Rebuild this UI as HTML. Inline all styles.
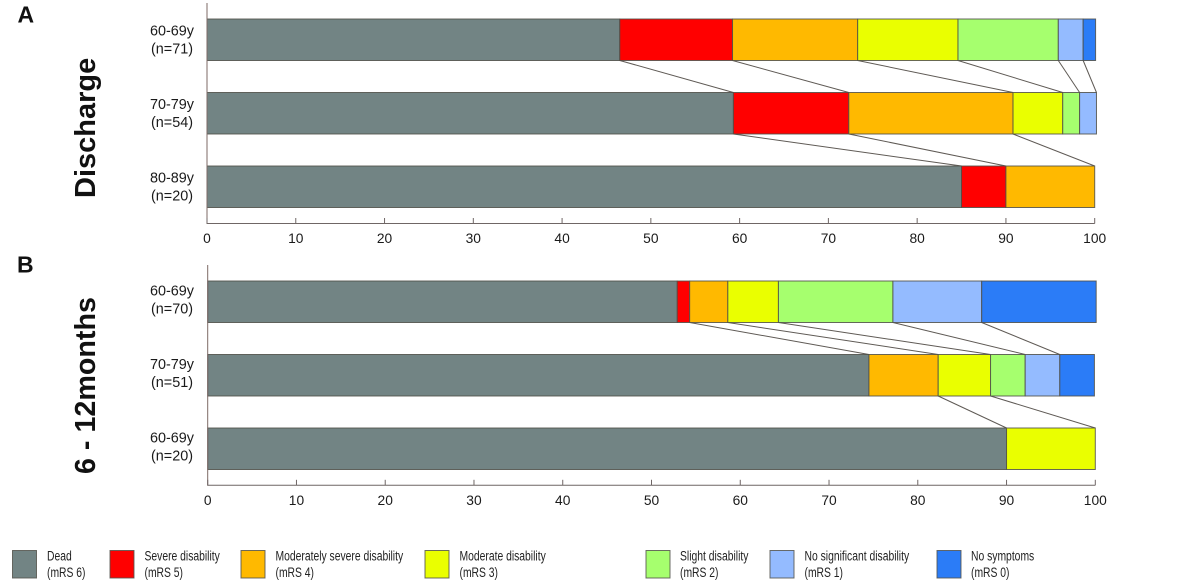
<!DOCTYPE html>
<html lang="en">
<head>
<meta charset="utf-8">
<title>Stacked mRS outcomes by age group</title>
<style>
html,body{margin:0;padding:0;background:#fff;}
svg{display:block;font-family:"Liberation Sans",Arial,sans-serif;}
</style>
</head>
<body>
<svg id="chart" width="1200" height="584" viewBox="0 0 1200 584" xmlns="http://www.w3.org/2000/svg">
  <rect x="0" y="0" width="1200" height="584" fill="#ffffff"/>
  <text x="17.5" y="22.5" font-size="23" font-weight="bold" fill="#111">A</text>
  <text x="17" y="272.5" font-size="23" font-weight="bold" fill="#111">B</text>
  <text transform="translate(95,198) rotate(-90)" font-size="29" font-weight="bold" fill="#111">Discharge</text>
  <text transform="translate(95,474) rotate(-90)" font-size="28.7" font-weight="bold" fill="#111">6 - 12months</text>
  <g id="plots"></g>
  <g id="legend"></g>
</svg>
<script>
// Shared data
const categoryNames = ["Dead", "Severe disability", "Moderately severe disability", "Moderate disability", "Slight disability", "No significant disability", "No symptoms"];
const categoryScores = ["(mRS 6)", "(mRS 5)", "(mRS 4)", "(mRS 3)", "(mRS 2)", "(mRS 1)", "(mRS 0)"];
const categoryColors = ["#728484", "#ff0000", "#ffb900", "#eaff00", "#a6ff6e", "#94bbff", "#2b7cf7"];
const tickValues = [0, 10, 20, 30, 40, 50, 60, 70, 80, 90, 100];

// Panel A: Discharge (percent per category)
const panelAAges = ["60-69y", "70-79y", "80-89y"];
const panelACounts = ["(n=71)", "(n=54)", "(n=20)"];
const panelARow1 = [46.5, 12.7, 14.1, 11.3, 11.3, 2.8, 1.4];
const panelARow2 = [59.3, 13.0, 18.5, 5.6, 1.9, 1.9, 0];
const panelARow3 = [85, 5, 10, 0, 0, 0, 0];
const panelALinks12 = [0, 1, 2, 3, 4, 5];
const panelALinks23 = [0, 1, 2];

// Panel B: 6 - 12 months (percent per category)
const panelBAges = ["60-69y", "70-79y", "60-69y"];
const panelBCounts = ["(n=70)", "(n=51)", "(n=20)"];
const panelBRow1 = [52.9, 1.4, 4.3, 5.7, 12.9, 10.0, 12.9];
const panelBRow2 = [74.5, 0, 7.8, 5.9, 3.9, 3.9, 3.9];
const panelBRow3 = [90, 0, 0, 10, 0, 0, 0];
const panelBLinks12 = [1, 2, 3, 4, 5];
const panelBLinks23 = [2, 3];

const SVGNS = "http://www.w3.org/2000/svg";
const plots = document.getElementById("plots");
const legend = document.getElementById("legend");

function make(tag, parent, attrs) {
  const el = document.createElementNS(SVGNS, tag);
  for (const k in attrs) el.setAttribute(k, attrs[k]);
  parent.appendChild(el);
  return el;
}

function cumulative(values) {
  let sum = 0;
  return values.map(v => (sum += v));
}

function drawPanel(prefix, layout, rows, links, ages, counts) {
  const xScale = v => layout.x0 + v * layout.unit;
  const rowTop = i => layout.top + i * layout.step;
  const group = make("g", plots, {});
  
  

  // connectors
  links.forEach((linkSet, r) => {
    const upper = cumulative(rows[r]);
    const lower = cumulative(rows[r + 1]);
    linkSet.forEach(k => {
      const line = make("line", group, {
        x1: xScale(upper[k]), y1: rowTop(r) + layout.height,
        x2: xScale(lower[k]), y2: rowTop(r + 1),
        stroke: "#5f5a55", "stroke-width": 1
      });
      
      
    });
  });

  // bars
  rows.forEach((values, r) => {
    let start = 0;
    values.forEach((v, k) => {
      if (v > 0) {
        const rect = make("rect", group, {
          x: xScale(start), y: rowTop(r),
          width: v * layout.unit, height: layout.height,
          fill: categoryColors[k], stroke: "#4f4f48", "stroke-width": 1, "stroke-opacity": 0.85
        });
        
        
      }
      start += v;
    });

    const ageLabel = make("text", group, {
      x: 172, y: rowTop(r) + layout.ageOffset,
      "text-anchor": "middle", "font-size": 14.4, fill: "#1a1a1a"
    });
    ageLabel.textContent = ages[r];
    
    

    const countLabel = make("text", group, {
      x: 172, y: rowTop(r) + layout.ageOffset + 18,
      "text-anchor": "middle", "font-size": 14.4, fill: "#1a1a1a"
    });
    countLabel.textContent = counts[r];
    
    
  });

  // axes
  const yAxis = make("line", group, {
    x1: layout.x0, y1: layout.axisTop, x2: layout.x0, y2: layout.axisY + 0.5,
    stroke: "#7d6a66", "stroke-width": 1
  });
  
  

  const xAxis = make("line", group, {
    x1: layout.x0, y1: layout.axisY, x2: xScale(100), y2: layout.axisY,
    stroke: "#6f6665", "stroke-width": 1
  });
  
  

  tickValues.forEach(t => {
    const tick = make("line", group, {
      x1: xScale(t), y1: layout.axisY - 5.5, x2: xScale(t), y2: layout.axisY,
      stroke: "#6f6665", "stroke-width": 1
    });
    
    

    const tickLabel = make("text", group, {
      x: xScale(t), y: layout.axisY + 19.5,
      "text-anchor": "middle", "font-size": 13.8, fill: "#1a1a1a"
    });
    tickLabel.textContent = t;
    
    
  });
}

drawPanel("panel-a",
  {x0: 207, unit: 8.877, top: 19, step: 73.5, height: 41.5, axisY: 223.5, axisTop: 3, ageOffset: 16.5},
  [panelARow1, panelARow2, panelARow3], [panelALinks12, panelALinks23], panelAAges, panelACounts);

drawPanel("panel-b",
  {x0: 207.7, unit: 8.876, top: 281, step: 73.5, height: 41.5, axisY: 485.3, axisTop: 265, ageOffset: 14.5},
  [panelBRow1, panelBRow2, panelBRow3], [panelBLinks12, panelBLinks23], panelBAges, panelBCounts);

// legend
const legendSwatchX = [12.5, 110, 241, 425, 646, 770, 937];
const legendTextX = [47, 144.5, 275.5, 459.5, 680, 804.5, 971];
categoryNames.forEach((name, k) => {
  const swatch = make("rect", legend, {
    x: legendSwatchX[k], y: 550.5, width: 24, height: 27.5,
    fill: categoryColors[k], stroke: "#55554e", "stroke-width": 1, "stroke-opacity": 0.85
  });
  
  

  const line1 = make("text", legend, {
    transform: "translate(" + legendTextX[k] + ",560.5) scale(0.74,1)",
    "font-size": 14, fill: "#222"
  });
  line1.textContent = name;
  
  

  const line2 = make("text", legend, {
    transform: "translate(" + legendTextX[k] + ",577) scale(0.74,1)",
    "font-size": 14, fill: "#222"
  });
  line2.textContent = categoryScores[k];
  
  
});
</script>
</body>
</html>
